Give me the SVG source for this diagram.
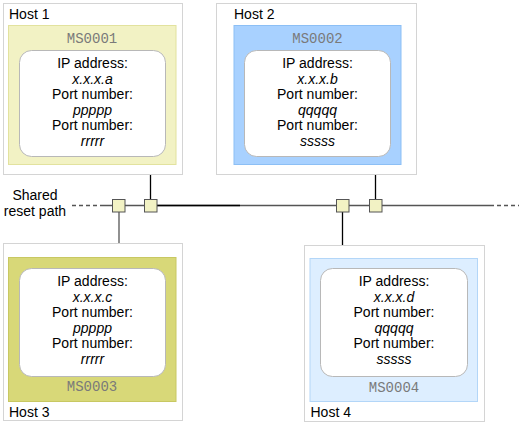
<svg xmlns="http://www.w3.org/2000/svg" width="519" height="425" viewBox="0 0 519 425">
<style>
.host{fill:#ffffff;stroke:#d4d4d4;stroke-width:1}
.inner{fill:#ffffff;stroke:#b8b8b8;stroke-width:1}
.t{font-family:"Liberation Sans",Arial,sans-serif;font-size:14px;fill:#000}
.c{text-anchor:middle}
.i{font-style:italic}
.ms{font-family:"Liberation Mono","Courier New",monospace;font-size:14px;fill:#7a7a7a;text-anchor:middle}
.port{fill:#f2f2c4;stroke:#555;stroke-width:1}
.ln{stroke:#555;stroke-width:1.3;fill:none}
.lnb{stroke:#000;stroke-width:1.3;fill:none}
</style>
<g id="connectors">
<line class="ln" x1="72" y1="205.5" x2="104" y2="205.5" stroke-dasharray="4,3"/>
<line class="ln" x1="104" y1="205.5" x2="490" y2="205.5"/>
<line class="lnb" x1="157" y1="205.5" x2="240" y2="205.5"/>
<line class="ln" x1="490" y1="205.5" x2="519" y2="205.5" stroke-dasharray="4,3"/>
<line class="lnb" x1="150.5" y1="164.5" x2="150.5" y2="199"/>
<line class="ln" x1="119" y1="212" x2="119" y2="257.5"/>
<line class="lnb" x1="375.5" y1="164.5" x2="375.5" y2="199"/>
<line class="lnb" x1="342.5" y1="212" x2="342.5" y2="258.5"/>
<rect class="port" x="112.5" y="199.5" width="12.5" height="12.5"/>
<rect class="port" x="144.5" y="199.5" width="12.5" height="12.5"/>
<rect class="port" x="336.5" y="199.5" width="12.5" height="12.5"/>
<rect class="port" x="369.5" y="199.5" width="12.5" height="12.5"/>
</g>
<text class="t c" x="35" y="200">Shared</text>
<text class="t c" x="35" y="216">reset path</text>
<g id="host1">
<rect class="host" x="3.5" y="3.5" width="179" height="171"/>
<text class="t" x="9" y="19">Host 1</text>
<rect x="8.5" y="25.5" width="167.5" height="139" fill="#f2f2c4" stroke="#e2e29e"/>
<text class="ms" x="92" y="43">MS0001</text>
<rect class="inner" x="19.5" y="50.5" width="146" height="106" rx="12"/>
<text class="t c" x="92.5" y="68">IP address:</text>
<text class="t c i" x="92.5" y="83.5">x.x.x.a</text>
<text class="t c" x="92.5" y="99">Port number:</text>
<text class="t c i" x="92.5" y="114.5">ppppp</text>
<text class="t c" x="92.5" y="130">Port number:</text>
<text class="t c i" x="92.5" y="145.5">rrrrr</text>
</g>
<g id="host2">
<rect class="host" x="216.5" y="3.5" width="200" height="171"/>
<text class="t" x="234" y="19">Host 2</text>
<rect x="234" y="25.5" width="167" height="139" fill="#a8d1ff" stroke="#8cbff5"/>
<text class="ms" x="317.5" y="43">MS0002</text>
<rect class="inner" x="244.5" y="50.5" width="146" height="106" rx="12"/>
<text class="t c" x="317.5" y="68">IP address:</text>
<text class="t c i" x="317.5" y="83.5">x.x.x.b</text>
<text class="t c" x="317.5" y="99">Port number:</text>
<text class="t c i" x="317.5" y="114.5">qqqqq</text>
<text class="t c" x="317.5" y="130">Port number:</text>
<text class="t c i" x="317.5" y="145.5">sssss</text>
</g>
<g id="host3">
<rect class="host" x="3.5" y="243.5" width="179" height="177"/>
<rect x="8.5" y="257.5" width="167.5" height="144" fill="#d8d878" stroke="#c8c862"/>
<rect class="inner" x="19.5" y="268.5" width="146" height="108" rx="12"/>
<text class="t c" x="92.5" y="286">IP address:</text>
<text class="t c i" x="92.5" y="301.5">x.x.x.c</text>
<text class="t c" x="92.5" y="317">Port number:</text>
<text class="t c i" x="92.5" y="332.5">ppppp</text>
<text class="t c" x="92.5" y="348">Port number:</text>
<text class="t c i" x="92.5" y="363.5">rrrrr</text>
<text class="ms" x="92" y="391">MS0003</text>
<text class="t" x="9" y="417">Host 3</text>
</g>
<g id="host4">
<rect class="host" x="304.5" y="245.5" width="180" height="176"/>
<rect x="310" y="258.5" width="167.5" height="143" fill="#ddeeff" stroke="#b3d6f8"/>
<rect class="inner" x="320.5" y="268.5" width="147" height="108" rx="12"/>
<text class="t c" x="394" y="286">IP address:</text>
<text class="t c i" x="394" y="301.5">x.x.x.d</text>
<text class="t c" x="394" y="317">Port number:</text>
<text class="t c i" x="394" y="332.5">qqqqq</text>
<text class="t c" x="394" y="348">Port number:</text>
<text class="t c i" x="394" y="363.5">sssss</text>
<text class="ms" x="394" y="392">MS0004</text>
<text class="t" x="310.5" y="417">Host 4</text>
</g>
</svg>
